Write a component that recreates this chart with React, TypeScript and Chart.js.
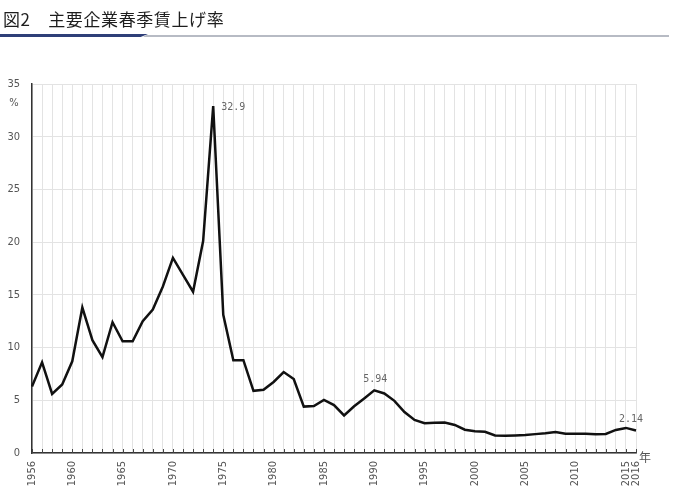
import React, { useEffect, useRef } from "react";
import { Chart, registerables } from "chart.js";

Chart.register(...registerables);

const years: string[] = [];
for (let y = 1956; y <= 2016; y++) years.push(String(y));

const wageRise: number[] = [
  6.3, 8.6, 5.6, 6.5, 8.7, 13.8, 10.7, 9.1, 12.4, 10.6,
  10.6, 12.5, 13.6, 15.8, 18.5, 16.9, 15.3, 20.1, 32.9, 13.1,
  8.8, 8.8, 5.9, 6.0, 6.74, 7.68, 7.01, 4.4, 4.46, 5.03,
  4.55, 3.56, 4.43, 5.17, 5.94, 5.65, 4.95, 3.89, 3.13, 2.83,
  2.86, 2.9, 2.66, 2.21, 2.06, 2.01, 1.66, 1.63, 1.67, 1.71,
  1.79, 1.87, 1.99, 1.83, 1.82, 1.83, 1.78, 1.8, 2.19, 2.38,
  2.14,
];

const labeledYears: string[] = [
  "1956", "1960", "1965", "1970", "1975", "1980", "1985", "1990",
  "1995", "2000", "2005", "2010", "2015", "2016",
];

const annotations: { year: string; text: string; dx: number; dy: number; align: CanvasTextAlign }[] = [
  { year: "1974", text: "32.9", dx: 8, dy: 1, align: "left" },
  { year: "1990", text: "5.94", dx: 1, dy: -11, align: "center" },
  { year: "2016", text: "2.14", dx: -5, dy: -11, align: "center" },
];

const tickFont = '"DejaVu Sans Condensed", "Liberation Sans Narrow", "DejaVu Sans", sans-serif';
const annoFont = '"DejaVu Sans Mono", "Liberation Mono", monospace';

const extrasPlugin = {
  id: "extras",
  afterDraw(chart: any) {
    const ctx = chart.ctx as CanvasRenderingContext2D;
    const xs = chart.scales.x;
    const ys = chart.scales.y;
    const area = chart.chartArea;
    ctx.save();
    // inner tick marks on x axis
    ctx.strokeStyle = "#444";
    ctx.lineWidth = 1;
    years.forEach((_, i) => {
      const px = Math.round(xs.getPixelForValue(i)) + 0.5;
      ctx.beginPath();
      ctx.moveTo(px, area.bottom);
      ctx.lineTo(px, area.bottom - 4);
      ctx.stroke();
    });
    // unit labels
    ctx.fillStyle = "#555";
    ctx.font = `11px ${tickFont}`;
    ctx.textAlign = "center";
    ctx.textBaseline = "middle";
    ctx.fillText("%", 14, ys.getPixelForValue(33.2));
    ctx.font = `12px "Noto Sans CJK JP", sans-serif`;
    ctx.textAlign = "left";
    ctx.fillText("年", area.right + 3, area.bottom + 4);
    // value annotations
    ctx.font = `10px ${annoFont}`;
    ctx.fillStyle = "#666";
    annotations.forEach((a) => {
      const idx = years.indexOf(a.year);
      const px = xs.getPixelForValue(idx);
      const py = ys.getPixelForValue(wageRise[idx]);
      ctx.textAlign = a.align;
      ctx.fillText(a.text, px + a.dx, py + a.dy);
    });
    ctx.restore();
  },
};

function WageChart() {
  const ref = useRef<HTMLCanvasElement | null>(null);
  useEffect(() => {
    if (!ref.current) return;
    const chart = new Chart(ref.current, {
      type: "line",
      data: {
        labels: years,
        datasets: [
          {
            data: wageRise,
            borderColor: "#111",
            borderWidth: 2.5,
            pointRadius: 0,
            tension: 0,
            fill: false,
            borderJoinStyle: "miter",
          },
        ],
      },
      options: {
        animation: false,
        responsive: false,
        devicePixelRatio: 1,
        layout: { padding: { left: 0, right: 61, top: 84, bottom: 0 } },
        plugins: { legend: { display: false }, tooltip: { enabled: false } },
        scales: {
          x: {
            type: "category",
            offset: false,
            grid: { color: "#e3e3e3", lineWidth: 1, drawTicks: false },
            border: { color: "#333", width: 1.5 },
            ticks: {
              autoSkip: false,
              minRotation: 90,
              maxRotation: 90,
              padding: 8,
              color: "#555",
              font: { family: tickFont, size: 11 },
              callback: (_v: any, i: number) => (labeledYears.includes(years[i]) ? years[i] : ""),
            },
            afterFit: (s: any) => {
              s.height = 51;
            },
          },
          y: {
            min: 0,
            max: 35,
            grid: { color: "#e3e3e3", lineWidth: 1, drawTicks: false },
            border: { color: "#333", width: 1.5 },
            ticks: {
              stepSize: 5,
              padding: 12,
              color: "#555",
              font: { family: tickFont, size: 11 },
            },
            afterFit: (s: any) => {
              s.width = 32;
            },
          },
        },
      },
      plugins: [extrasPlugin],
    });
    return () => chart.destroy();
  }, []);
  return <canvas ref={ref} width={697} height={504} style={{ position: "absolute", left: 0, top: 0 }} />;
}

export default function App() {
  return (
    <div style={{ position: "fixed", left: 0, top: 0, width: 697, height: 504, background: "#fff", overflow: "hidden" }}>
      <WageChart />
      <div
        style={{
          position: "absolute",
          left: 3,
          top: 7,
          fontFamily: '"Noto Sans CJK JP", sans-serif',
          fontSize: 17,
          letterSpacing: 0.6,
          color: "#1e1e1e",
          lineHeight: "24px",
          whiteSpace: "nowrap",
        }}
      >
        図2　主要企業春季賃上げ率
      </div>
      <div
        style={{
          position: "absolute",
          left: 0,
          top: 34,
          width: 148,
          height: 3,
          background: "#2e3f78",
          clipPath: "polygon(0 0, 100% 0, 95% 100%, 0 100%)",
        }}
      />
      <div
        style={{
          position: "absolute",
          left: 143,
          top: 35,
          width: 526,
          height: 2,
          background: "#b7bbc4",
          clipPath: "polygon(3px 0, 100% 0, 100% 100%, 0 100%)",
        }}
      />
    </div>
  );
}
